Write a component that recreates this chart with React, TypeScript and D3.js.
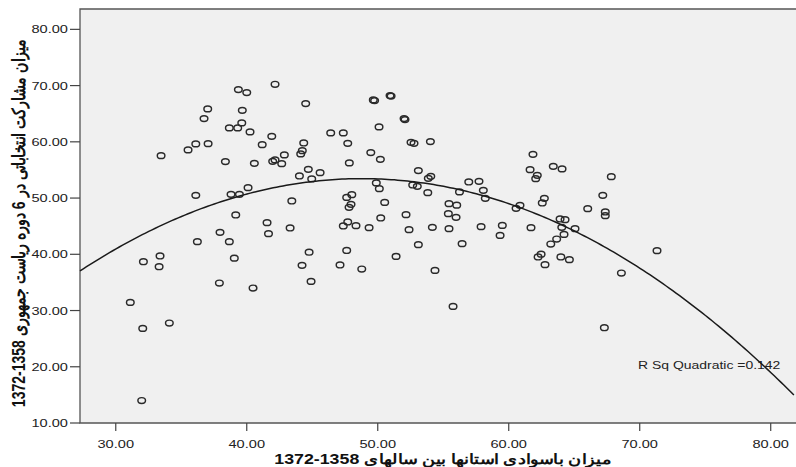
import { useEffect, useRef } from "react";
import * as d3 from "d3";

// literacy rate of provinces 1358-1372 (x) vs electoral turnout (y)
const literacy = [
  39.36, 40.0, 37.02, 39.66, 36.74, 39.62, 38.67, 39.31, 40.25, 41.91,
  36.11, 37.05, 35.52, 41.18, 33.46, 38.37, 40.58, 41.98, 42.16, 40.1,
  38.8, 39.44, 36.11, 39.16, 41.55, 41.66, 37.96, 36.23, 38.67, 33.38,
  32.11, 39.05, 42.16, 44.5, 49.66, 49.76, 50.94, 51.02, 52.01, 52.08,
  50.1, 46.41, 47.37, 44.35, 47.71, 52.54, 52.77, 54.02, 44.24, 44.12,
  42.87, 42.67, 49.47, 50.2, 47.83, 44.7, 45.6, 44.02, 44.96, 53.1,
  54.05, 53.86, 49.89, 50.12, 52.67, 53.02, 53.82, 56.24, 43.44, 48.02,
  47.63, 47.96, 47.81, 50.53, 55.44, 56.03, 52.16, 50.23, 55.39, 55.98,
  43.31, 47.71, 47.37, 48.34, 49.34, 52.39, 54.17, 55.44, 53.1, 56.44,
  44.76, 47.63, 51.4, 61.85, 61.63, 63.4, 64.07, 62.18, 62.06, 67.83,
  56.95, 57.73, 58.06, 58.21, 62.72, 62.56, 67.18, 60.86, 60.56, 66.03,
  67.37, 67.37, 63.92, 64.3, 64.05, 65.06, 57.89, 59.51, 59.34, 61.7,
  64.22, 63.66, 63.21, 62.47, 62.24, 63.98, 64.63, 62.77, 71.32, 68.6,
  55.75, 67.3, 44.22, 47.12, 48.78, 54.37, 44.91, 33.31, 37.91, 40.48,
  31.11, 32.06, 34.09, 31.98,
];

const turnout = [
  69.29, 68.75, 65.85, 65.6, 64.13, 63.36, 62.47, 62.47, 61.76, 60.98,
  59.63, 59.68, 58.56, 59.5, 57.54, 56.48, 56.17, 56.53, 56.78, 51.85,
  50.66, 50.66, 50.48, 46.99, 45.62, 43.67, 43.9, 42.24, 42.24, 39.7,
  38.68, 39.31, 70.23, 66.8, 67.46, 67.33, 68.22, 68.13, 64.13, 63.95,
  62.65, 61.58, 61.58, 59.8, 59.73, 59.91, 59.73, 60.04, 58.43, 57.85,
  57.67, 56.12, 58.08, 56.89, 56.25, 55.11, 54.52, 53.93, 53.4, 54.88,
  53.86, 53.51, 52.69, 51.67, 52.33, 52.08, 50.96, 51.09, 49.48, 50.6,
  50.12, 48.88, 48.35, 49.23, 49.0, 48.74, 47.05, 46.46, 47.22, 46.57,
  44.68, 45.75, 45.04, 45.09, 44.73, 44.38, 44.79, 44.56, 41.71, 41.89,
  40.37, 40.68, 39.63, 57.78, 55.05, 55.64, 55.18, 54.04, 53.45, 53.81,
  52.86, 52.97, 51.37, 49.95, 49.95, 49.13, 50.48, 48.7, 48.17, 48.11,
  47.53, 46.87, 46.28, 46.16, 44.79, 44.56, 44.91, 45.14, 43.36, 44.73,
  43.54, 42.72, 41.83, 40.02, 39.52, 39.52, 39.04, 38.15, 40.64, 36.67,
  30.73, 26.94, 38.03, 38.1, 37.38, 37.14, 35.18, 37.79, 34.89, 34.0,
  31.44, 26.82, 27.78, 14.0,
];

const xTicks = [30, 40, 50, 60, 70, 80];
const yTicks = [10, 20, 30, 40, 50, 60, 70, 80];

// quadratic fit: y = a + b*x + c*x^2
const quadFit = [-30.85, 3.455, -0.0354];
const fitLabel = "R Sq Quadratic =0.142";

const xTitle = "میزان باسوادی استانها بین سالهای 1358-1372";
const yTitle = "میزان مشارکت انتخاباتی در 6 دوره ریاست جمهوری 1358-1372";

const WIDTH = 796;
const HEIGHT = 467;
const PLOT = { left: 80, top: 9, right: 796, bottom: 423 };
const STRETCH = 1.27;
const FONT = "'Liberation Sans', Arial, sans-serif";

export default function App() {
  const svgRef = useRef<SVGSVGElement>(null);

  useEffect(() => {
    if (!svgRef.current) return;
    const svg = d3.select(svgRef.current);
    svg.selectAll("*").remove();

    const x = d3.scaleLinear().domain([27.27, 81.93]).range([PLOT.left, PLOT.right]);
    const y = d3.scaleLinear().domain([10, 83.62]).range([PLOT.bottom, PLOT.top]);
    const fmt = d3.format(".2f");

    svg.append("rect").attr("width", WIDTH).attr("height", HEIGHT).attr("fill", "#fff");

    // plot background
    svg
      .append("rect")
      .attr("x", PLOT.left)
      .attr("y", PLOT.top)
      .attr("width", PLOT.right - PLOT.left + 10)
      .attr("height", PLOT.bottom - PLOT.top)
      .attr("fill", "#f0f0f0");

    // frame
    svg
      .append("path")
      .attr("d", `M${PLOT.right + 10},${PLOT.top}H${PLOT.left}V${PLOT.bottom}H${PLOT.right + 10}`)
      .attr("fill", "none")
      .attr("stroke", "#555")
      .attr("stroke-width", 1.3);

    // y ticks
    const yt = svg.append("g");
    yt.selectAll("line")
      .data(yTicks)
      .join("line")
      .attr("x1", PLOT.left - 10)
      .attr("x2", PLOT.left)
      .attr("y1", (d) => y(d))
      .attr("y2", (d) => y(d))
      .attr("stroke", "#444")
      .attr("stroke-width", 1.2);
    yt.selectAll("g")
      .data(yTicks)
      .join("g")
      .attr("transform", (d) => `translate(${PLOT.left - 12},${y(d) + 4}) scale(${STRETCH},1)`)
      .append("text")
      .attr("text-anchor", "end")
      .attr("font-family", FONT)
      .attr("font-size", 11.5)
      .attr("fill", "#222")
      .text((d) => fmt(d));

    // x ticks
    const xt = svg.append("g");
    xt.selectAll("line")
      .data(xTicks)
      .join("line")
      .attr("x1", (d) => x(d))
      .attr("x2", (d) => x(d))
      .attr("y1", PLOT.bottom)
      .attr("y2", PLOT.bottom + 8)
      .attr("stroke", "#444")
      .attr("stroke-width", 1.2);
    xt.selectAll("g")
      .data(xTicks)
      .join("g")
      .attr("transform", (d) => `translate(${x(d)},${PLOT.bottom + 25}) scale(${STRETCH},1)`)
      .append("text")
      .attr("text-anchor", "middle")
      .attr("font-family", FONT)
      .attr("font-size", 11.5)
      .attr("fill", "#222")
      .text((d) => fmt(d));

    // axis titles
    svg
      .append("g")
      .attr("transform", `translate(443,464) scale(${STRETCH},1)`)
      .append("text")
      .attr("direction", "rtl")
      .attr("text-anchor", "middle")
      .attr("font-family", FONT)
      .attr("font-weight", "bold")
      .attr("font-size", 14)
      .attr("fill", "#111")
      .text(xTitle);

    svg
      .append("g")
      .attr("transform", `translate(25,223) scale(${STRETCH},1) rotate(-90)`)
      .append("text")
      .attr("direction", "rtl")
      .attr("text-anchor", "middle")
      .attr("font-family", FONT)
      .attr("font-weight", "bold")
      .attr("font-size", 14)
      .attr("fill", "#111")
      .text(yTitle);

    // points
    const pts = d3.zip(literacy, turnout);
    svg
      .append("g")
      .selectAll("ellipse")
      .data(pts)
      .join("ellipse")
      .attr("cx", (d) => x(d[0]))
      .attr("cy", (d) => y(d[1]))
      .attr("rx", 3.8)
      .attr("ry", 2.9)
      .attr("fill", "none")
      .attr("stroke", "#2a2a2a")
      .attr("stroke-width", 1.45);

    // fit label
    svg
      .append("g")
      .attr("transform", `translate(638,369) scale(${STRETCH},1)`)
      .append("text")
      .attr("font-family", FONT)
      .attr("font-size", 11)
      .attr("fill", "#222")
      .text(fitLabel);

    // quadratic curve
    const [a, b, c] = quadFit;
    const xs = d3.range(27.27, 82.0, 0.25);
    const curve = d3
      .line<number>()
      .x((d) => x(d))
      .y((d) => y(a + b * d + c * d * d));
    svg
      .append("path")
      .datum(xs)
      .attr("d", curve)
      .attr("fill", "none")
      .attr("stroke", "#1a1a1a")
      .attr("stroke-width", 1.5);
  }, []);

  return (
    <svg
      ref={svgRef}
      width={WIDTH}
      height={HEIGHT}
      style={{ position: "absolute", left: 0, top: 0, overflow: "hidden" }}
    />
  );
}
